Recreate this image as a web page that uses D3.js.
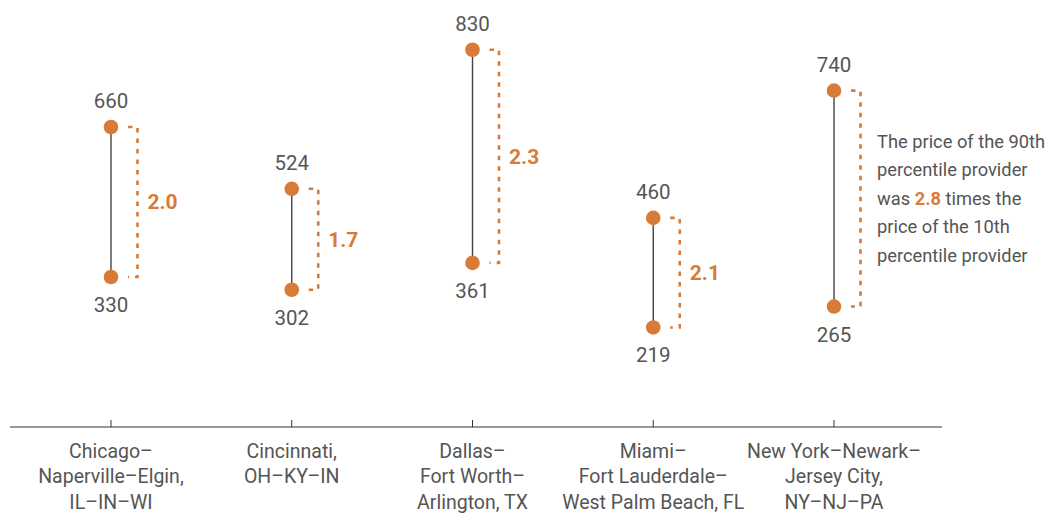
<!DOCTYPE html>
<html>
<head>
<meta charset="utf-8">
<script src="https://cdn.jsdelivr.net/npm/d3@7"></script>
<style>
  body { margin: 0; background: #fff; }
  text { font-family: Roboto, "Liberation Sans", sans-serif; }
</style>
</head>
<body>
<div id="chart"></div>
<script>
(function(){
  var width = 1064,
      height = 517;

  var metros = ['Chicago', 'Cincinnati', 'Dallas', 'Miami', 'New York'];
  var metroLabels = [
    ['Chicago\u2013', 'Naperville\u2013Elgin,', 'IL\u2013IN\u2013WI'],
    ['Cincinnati,', 'OH\u2013KY\u2013IN'],
    ['Dallas\u2013', 'Fort Worth\u2013', 'Arlington, TX'],
    ['Miami\u2013', 'Fort Lauderdale\u2013', 'West Palm Beach, FL'],
    ['New York\u2013Newark\u2013', 'Jersey City,', 'NY\u2013NJ\u2013PA']
  ];
  var p10 = [330, 302, 361, 219, 265];
  var p90 = [660, 524, 830, 460, 740];
  var ratios = ['2.0', '1.7', '2.3', '2.1', '2.8'];
  var note = ['The price of the 90th', 'percentile provider', 'was |2.8| times the', 'price of the 10th', 'percentile provider'];

  var orange = '#d97b38',
      grey = '#555';

  var data = metros.map(function(m, i){
    return { metro: m, low: p10[i], high: p90[i], ratio: ratios[i], label: metroLabels[i] };
  });

  var svg = d3.select('#chart')
    .append('svg')
    .attr('width', width)
    .attr('height', height);

  var x = d3.scaleBand().domain(metros).range([20.6, 924.4]);
  var y = d3.scaleLinear().domain([0, 900]).range([427, 17.9]);

  // axis
  var axis = svg.append('g')
    .attr('transform', 'translate(0,' + y(0) + ')')
    .call(d3.axisTop(x).tickSize(7).tickFormat(''));
  axis.select('.domain').remove();
  axis.selectAll('.tick line').attr('stroke', '#333').attr('stroke-width', 1);
  svg.append('line')
    .attr('x1', 10).attr('x2', 942)
    .attr('y1', y(0)).attr('y2', y(0))
    .attr('stroke', '#333').attr('stroke-width', 1);

  function cx(d){ return x(d.metro) + x.bandwidth() / 2; }

  // category labels
  svg.selectAll('.cat')
    .data(data)
    .enter().append('text')
    .attr('class', 'cat')
    .attr('text-anchor', 'middle')
    .attr('font-size', 19.5)
    .attr('fill', grey)
    .each(function(d){
      var t = d3.select(this);
      d.label.forEach(function(line, j){
        t.append('tspan').attr('x', cx(d)).attr('y', 457.5 + j * 25.5).text(line);
      });
    });

  var g = svg.selectAll('.metro')
    .data(data)
    .enter().append('g')
    .attr('class', 'metro');

  g.append('line')
    .attr('x1', cx).attr('x2', cx)
    .attr('y1', function(d){ return y(d.high); })
    .attr('y2', function(d){ return y(d.low); })
    .attr('stroke', '#444')
    .attr('stroke-width', 1.4);

  g.append('path')
    .attr('fill', 'none')
    .attr('stroke', orange)
    .attr('stroke-width', 2.6)
    .attr('stroke-dasharray', '4.5,6')
    .attr('d', function(d){
      var x0 = cx(d) + 17, x1 = cx(d) + 26.5;
      return 'M' + x0 + ',' + y(d.high) + 'H' + x1 + 'V' + y(d.low) + 'H' + x0;
    });

  g.append('circle')
    .attr('cx', cx).attr('cy', function(d){ return y(d.high); })
    .attr('r', 7.3).attr('fill', orange);
  g.append('circle')
    .attr('cx', cx).attr('cy', function(d){ return y(d.low); })
    .attr('r', 7.3).attr('fill', orange);

  g.append('text')
    .attr('x', cx).attr('y', function(d){ return y(d.high) - 18.5; })
    .attr('text-anchor', 'middle')
    .attr('font-size', 20.5)
    .attr('fill', grey)
    .text(function(d){ return d.high; });
  g.append('text')
    .attr('x', cx).attr('y', function(d){ return y(d.low) + 35; })
    .attr('text-anchor', 'middle')
    .attr('font-size', 20.5)
    .attr('fill', grey)
    .text(function(d){ return d.low; });

  // ratio labels, last one goes into the note
  g.filter(function(d, i){ return i < data.length - 1; })
    .append('text')
    .attr('x', function(d){ return cx(d) + 36.5; })
    .attr('y', function(d){ return (y(d.high) + y(d.low)) / 2 + 7.5; })
    .attr('font-size', 21)
    .attr('font-weight', 'bold')
    .attr('fill', orange)
    .text(function(d){ return d.ratio; });

  var noteText = svg.append('text')
    .attr('font-size', 18.3)
    .attr('fill', grey);
  note.forEach(function(line, j){
    var ts = noteText.append('tspan').attr('x', 877).attr('y', 147.5 + j * 28.5);
    line.split('|').forEach(function(part, k){
      var s = ts.append('tspan').text(part);
      if (k === 1) s.attr('fill', orange).attr('font-weight', 'bold');
    });
  });
})();
</script>
</body>
</html>
